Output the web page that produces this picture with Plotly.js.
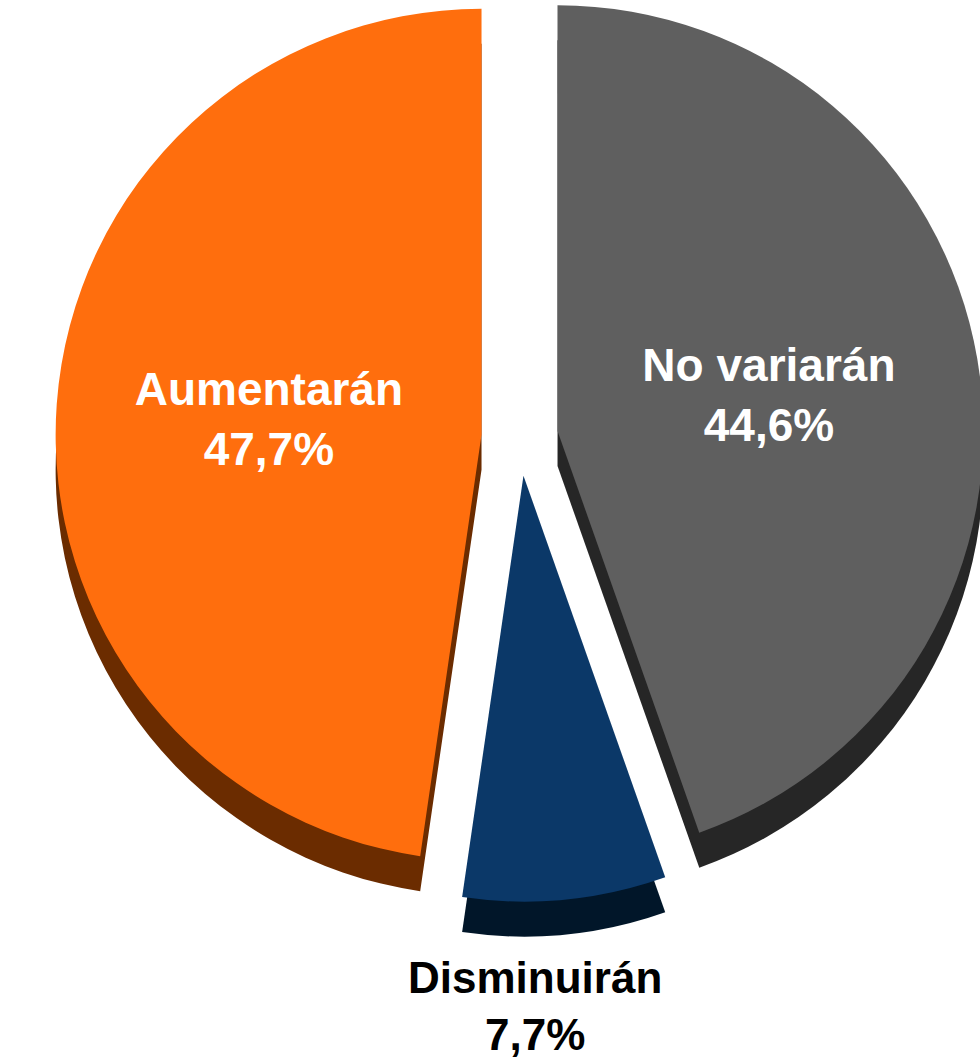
<!DOCTYPE html>
<html>
<head>
<meta charset="utf-8">
<script src="https://cdn.plot.ly/plotly-3.0.1.min.js"></script>
<style>
html,body{margin:0;padding:0;background:#fff;overflow:hidden;width:980px;height:1061px;}
#chart{position:absolute;left:0;top:-30px;width:990px;height:1091px;}
</style>
</head>
<body>
<div id="chart"></div>
<script>
// Data
const categories = ['No variarán', 'Disminuirán', 'Aumentarán'];
const shares = [44.6, 7.7, 47.7];
const faceColors = ['#5f5f5f', '#0b3868', '#ff6e0d'];
const sideColors = ['#262626', '#011629', '#6b2c00'];
const textPositions = ['inside', 'none', 'inside'];

const W = 990;
const H = 1091;
const depth = 35; // visual thickness of the 3D edge in px
const domX = [0.05, 1.0];
const domY = [0.1460, 0.9970];
const pulls = [0.09, 0.09, 0.09];

const shadow = {
  type: 'pie',
  labels: categories,
  values: shares,
  sort: false,
  direction: 'clockwise',
  rotation: 0,
  pull: pulls,
  marker: {colors: sideColors, line: {width: 0}},
  textinfo: 'none',
  hoverinfo: 'skip',
  showlegend: false,
  domain: {x: domX, y: [domY[0] - depth / H, domY[1] - depth / H]}
};

const face = {
  type: 'pie',
  labels: categories,
  values: shares,
  sort: false,
  direction: 'clockwise',
  rotation: 0,
  pull: pulls,
  marker: {colors: faceColors, line: {width: 0}},
  texttemplate: '%{label}<br>%{percent:.1%}',
  textposition: textPositions,
  insidetextorientation: 'horizontal',
  insidetextfont: {family: 'Liberation Sans, Arial, sans-serif', size: 46, color: '#ffffff', weight: 'bold'},
  hoverinfo: 'label+percent',
  showlegend: false,
  domain: {x: domX, y: domY}
};

// Label for the small slice, placed below the pie as in the original
const smallIdx = 1;
const smallLabel = categories[smallIdx] + '<br>' + shares[smallIdx].toFixed(1).replace('.', ',') + '%';

const layout = {
  width: W,
  height: H,
  margin: {l: 0, r: 0, t: 0, b: 0},
  paper_bgcolor: '#ffffff',
  plot_bgcolor: '#ffffff',
  separators: ',.',
  showlegend: false,
  annotations: [{
    text: smallLabel,
    xref: 'paper', yref: 'paper',
    x: 0.540, y: 0.0500,
    xanchor: 'center', yanchor: 'middle',
    showarrow: false,
    font: {family: 'Liberation Sans, Arial, sans-serif', size: 44, color: '#000000', weight: 'bold'}
  }]
};

Plotly.newPlot('chart', [shadow, face], layout, {displayModeBar: false, staticPlot: true});
</script>
</body>
</html>
